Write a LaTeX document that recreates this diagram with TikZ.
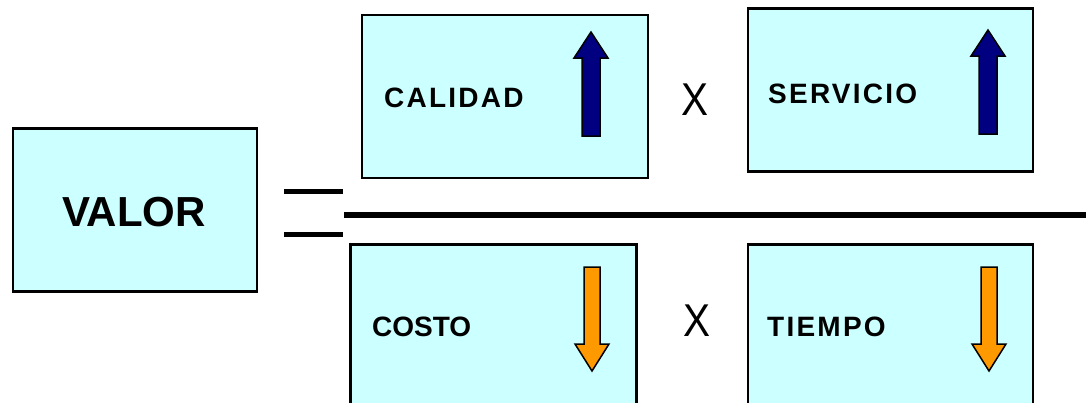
\documentclass[tikz,border=0pt]{standalone}
\usepackage{fontspec}
\setmainfont{Liberation Sans}
\definecolor{caja}{HTML}{CCFFFF}
\definecolor{azul}{HTML}{000080}
\definecolor{naranja}{HTML}{FF9900}

\begin{document}
\begin{tikzpicture}[x=1pt,y=-1pt]
        \tikzstyle{caja}=[draw=black,line width=2.2pt,fill=caja,minimum width=286pt,minimum height=163pt,inner sep=0pt]
        \tikzstyle{lbl}=[anchor=base west,inner sep=0pt,font=\fontsize{28}{30}\bfseries\addfontfeature{LetterSpace=8}]
        \tikzstyle{por}=[inner sep=0pt,xscale=0.88,transform shape,font=\fontsize{46}{48}\selectfont]
        \tikzstyle{raya}=[line width=5pt]
        \tikzset{sube/.pic={\draw[line width=1.5pt,fill=azul,line join=miter]
            (-9,104) -- (-9,26) -- (-17,26) -- (0,0) -- (17,26) -- (9,26) -- (9,104) -- cycle;}}
        \tikzset{baja/.pic={\draw[line width=1.5pt,fill=naranja,line join=miter]
            (-8,0) -- (-8,77) -- (-17,77) -- (0,104) -- (17,77) -- (8,77) -- (8,0) -- cycle;}}
        \useasboundingbox (0,0) rectangle (1086,402);
        % valor
        \node[caja,minimum width=244pt] (valor) at (135,210) {};
        \node[inner sep=0pt,font=\fontsize{42}{44}\bfseries] (tvalor) at (134,212) {VALOR};
        % igual y raya de fraccion
        \coordinate (ig1) at (284,191.5);
        \coordinate (ig2) at (284,234.5);
        \draw[raya] (ig1) -- ++(59,0);
        \draw[raya] (ig2) -- ++(59,0);
        \draw[line width=6pt] (344,215) -- (1086,215);
        % numerador
        \node[caja] (calidad) at (505,96.5) {};
        \node[caja,minimum width=285pt] (servicio) at (890.5,90) {};
        \node[lbl] (tcalidad) at (384,107) {CALIDAD};
        \node[lbl] (tservicio) at (768,103) {SERVICIO};
        \node[por] (x1) at (695,99.5) {X};
        \pic at (591,32) {sube};
        \pic at (988,30) {sube};
        % denominador
        \node[caja] (costo) at (493.5,326) {};
        \node[caja,minimum width=285pt] (tiempo) at (890.5,326) {};
        \node[lbl,font=\fontsize{28}{30}\bfseries] (tcosto) at (372,336) {COSTO};
        \node[lbl] (ttiempo) at (767,336) {TIEMPO};
        \node[por] (x2) at (697,321) {X};
        \pic at (592,267) {baja};
        \pic at (989,267) {baja};
    \end{tikzpicture}
\end{document}
